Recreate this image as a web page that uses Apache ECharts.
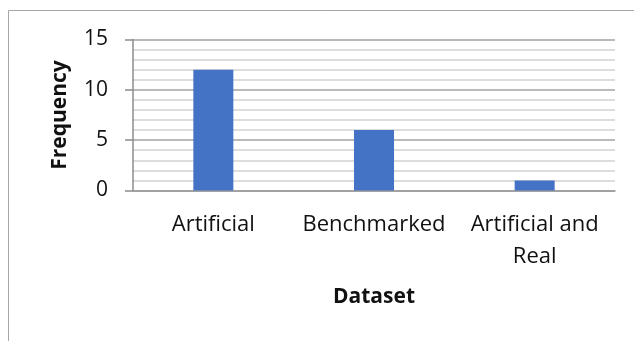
<!DOCTYPE html>
<html>
<head>
<meta charset="utf-8">
<script src="https://cdn.jsdelivr.net/npm/echarts@6/dist/echarts.min.js"></script>
<style>
  html, body { margin: 0; padding: 0; background: #fff; }
  #chart { width: 634px; height: 341px; }
</style>
</head>
<body>
<div id="chart"></div>
<script>
// Dataset types and how often each appears
const categories = ['Artificial', 'Benchmarked', 'Artificial and\nReal'];
const frequency = [12, 6, 1];
const yTicks = { min: 0, max: 15, interval: 5 };

const FONT = '"Open Sans", "Liberation Sans", sans-serif';

const chart = echarts.init(document.getElementById('chart'), null, { renderer: 'canvas' });

chart.setOption({
  animation: false,
  backgroundColor: '#ffffff',
  graphic: [{
    type: 'rect',
    shape: { x: 8.5, y: 10.5, width: 800, height: 600 },
    style: { fill: 'none', stroke: '#a6a6a6', lineWidth: 1 },
    silent: true,
    z: -1
  }],
  grid: { left: 133, right: 19, top: 39.5, bottom: 150.5, containLabel: false },
  xAxis: {
    type: 'category',
    data: categories,
    name: 'Dataset',
    nameLocation: 'middle',
    nameGap: 96,
    nameTextStyle: { fontFamily: FONT, fontSize: 21, fontWeight: 'bold', color: '#111' },
    axisLine: { show: true, lineStyle: { color: '#9a9a9a', width: 1.5 } },
    axisTick: { show: false },
    axisLabel: {
      margin: 18,
      fontFamily: FONT,
      fontSize: 22,
      lineHeight: 32,
      color: '#111',
      interval: 0
    }
  },
  yAxis: {
    type: 'value',
    min: yTicks.min,
    max: yTicks.max,
    interval: yTicks.interval,
    name: 'Frequency',
    nameLocation: 'middle',
    nameRotate: 90,
    nameGap: 62,
    nameTextStyle: { fontFamily: FONT, fontSize: 21, fontWeight: 'bold', color: '#111' },
    axisLine: { show: true, lineStyle: { color: '#8c8c8c', width: 1.5 } },
    axisTick: { show: true, length: 8, lineStyle: { color: '#8c8c8c', width: 1.5 } },
    axisLabel: { margin: 25, fontFamily: FONT, fontSize: 21, color: '#111' },
    splitLine: { show: true, lineStyle: { color: '#a3a3a3', width: 1.5 } },
    minorTick: { show: false, splitNumber: 5 },
    minorSplitLine: { show: true, lineStyle: { color: '#d2d2d2', width: 1.5 } }
  },
  series: [{
    type: 'bar',
    data: frequency,
    barWidth: 40,
    itemStyle: { color: '#4472c4' }
  }]
});
</script>
</body>
</html>
